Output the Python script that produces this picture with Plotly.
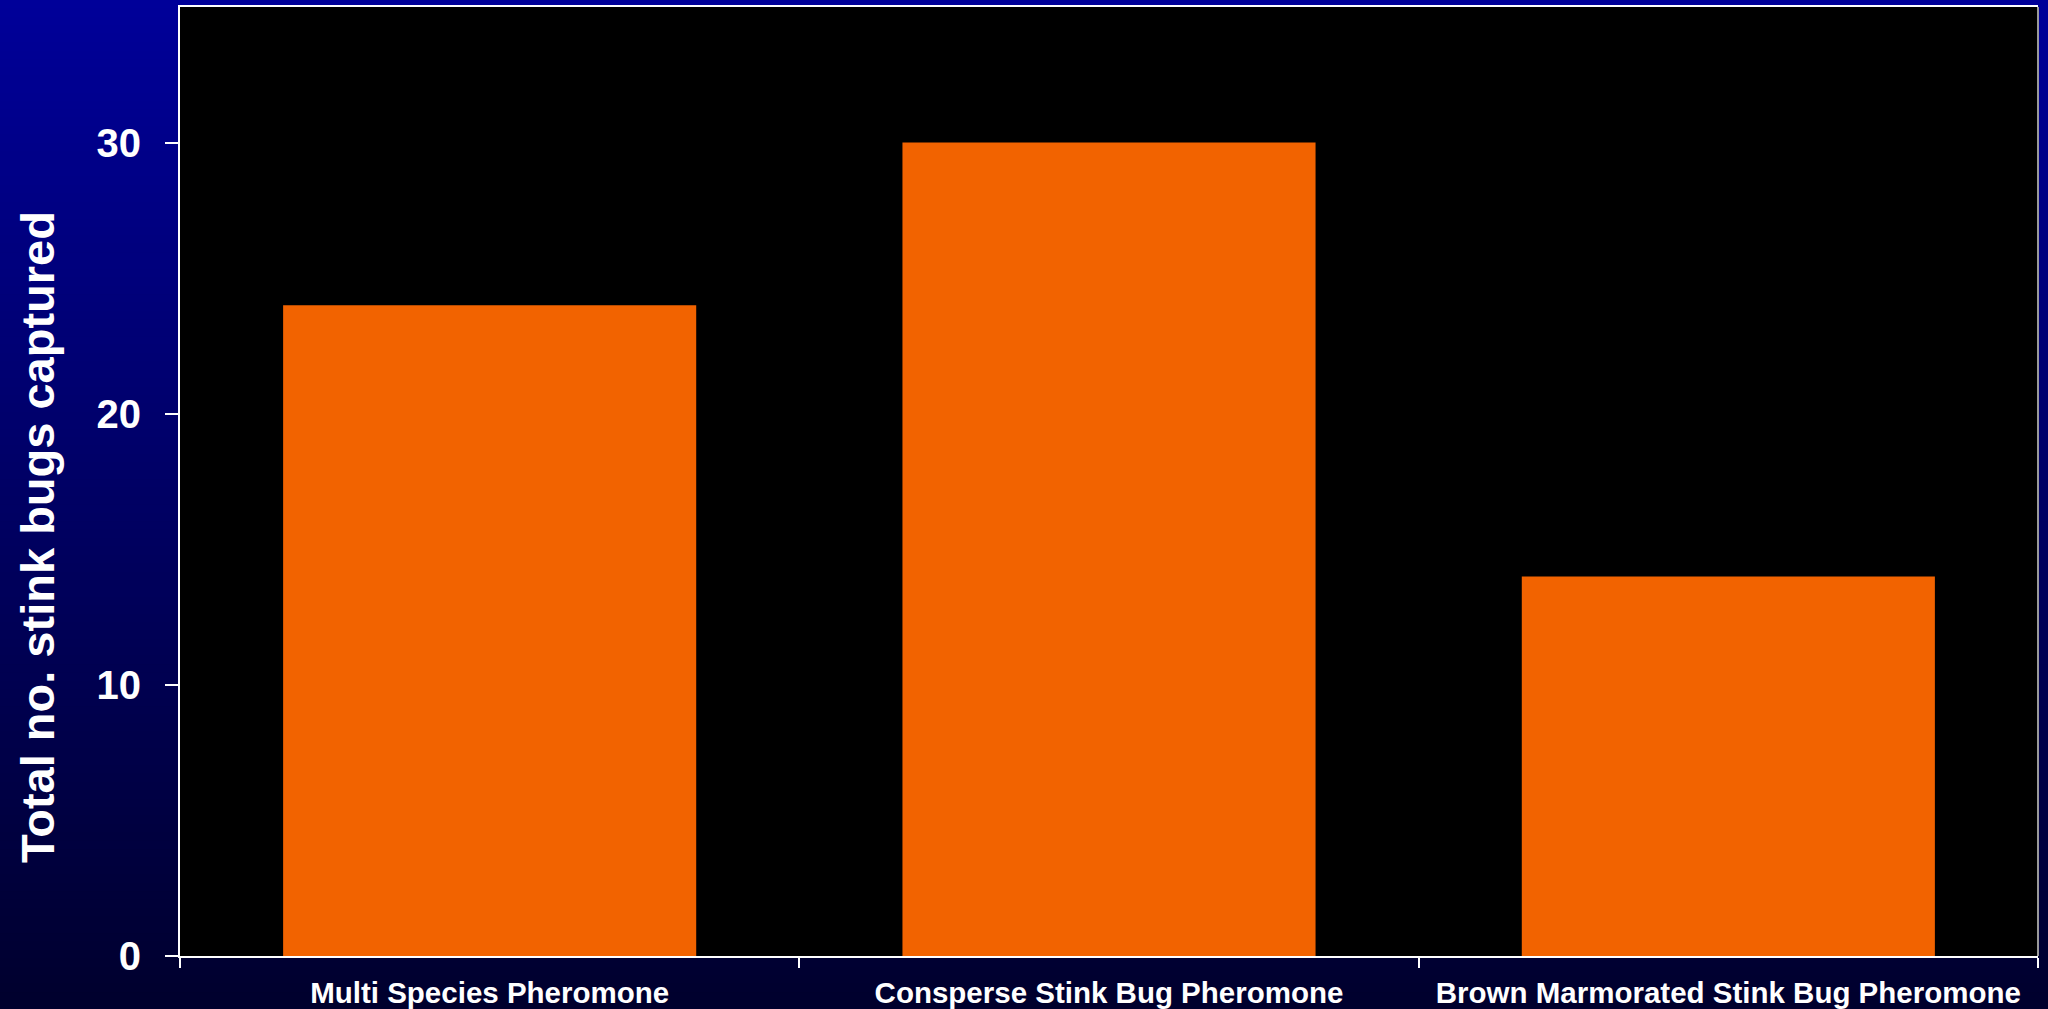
import plotly.graph_objects as go

categories = ["Multi Species Pheromone", "Consperse Stink Bug Pheromone", "Brown Marmorated Stink Bug Pheromone"]
totals = [24, 30, 14]
y_ticks = [0, 10, 20, 30]
y_title = "Total no. stink bugs captured"

W, H = 2048, 1009
ML, MR, MT, MB = 180, 10, 7, 53
pw = W - ML - MR
ph = H - MT - MB

font_family = "Liberation Sans, Arial, sans-serif"

fig = go.Figure()
fig.add_trace(go.Bar(
    x=categories, y=totals,
    marker=dict(color="#F26300", line=dict(width=0)),
    hoverinfo="x+y",
))

# gradient background bands (paper)
shapes = []
n = 120
top_c = (0, 0, 153)
bot_c = (0, 0, 45)
for i in range(n):
    px0 = H * i / n
    px1 = H * (i + 1) / n + 1
    t = (i + 0.5) / n
    c = tuple(int(round(top_c[k] + (bot_c[k] - top_c[k]) * t)) for k in range(3))
    shapes.append(dict(
        type="rect", xref="paper", yref="paper", layer="below",
        x0=-ML / pw - 0.01, x1=1 + MR / pw + 0.01,
        y0=(H - MB - px1) / ph, y1=(H - MB - px0) / ph,
        fillcolor="rgb(%d,%d,%d)" % c, line=dict(width=0),
    ))
# black plot area
shapes.append(dict(type="rect", xref="paper", yref="paper", layer="below",
                   x0=0, x1=1, y0=0, y1=1, fillcolor="black", line=dict(width=0)))
# right border (grey)
shapes.append(dict(type="line", xref="paper", yref="paper", layer="above",
                   x0=1, x1=1, y0=0, y1=1, line=dict(color="#9a9a9a", width=2)))

fig.update_layout(
    width=W, height=H,
    margin=dict(l=ML, r=MR, t=MT, b=MB, autoexpand=False),
    paper_bgcolor="rgb(0,0,100)",
    plot_bgcolor="black",
    shapes=shapes,
    bargap=0.333,
    showlegend=False,
    font=dict(family=font_family, color="white"),
    annotations=[dict(
        text="<b>%s</b>" % y_title, textangle=-90,
        xref="paper", yref="paper", x=(37 - ML) / pw, y=(H - MB - 537) / ph,
        xanchor="center", yanchor="middle", showarrow=False,
        font=dict(family=font_family, size=47, color="white"),
    )],
)

fig.update_xaxes(
    type="category", automargin=False,
    showline=True, linecolor="white", linewidth=2, mirror=True,
    ticks="outside", tickson="boundaries", ticklen=10, tickwidth=2, tickcolor="white",
    ticklabelstandoff=10,
    tickfont=dict(family=font_family, size=29.5, color="white", weight="bold"),
    showgrid=False, zeroline=False,
)
fig.update_yaxes(
    range=[0, 35], automargin=False,
    tickvals=y_ticks, ticktext=[str(v) for v in y_ticks],
    showline=True, linecolor="white", linewidth=2,
    ticks="outside", ticklen=13, tickwidth=2, tickcolor="white",
    ticklabelstandoff=16,
    tickfont=dict(family=font_family, size=40, color="white", weight="bold"),
    showgrid=False, zeroline=False,
)

fig.write_html(
    "out.html",
    config={"displayModeBar": False},
    post_script="document.body.style.margin='0';document.body.style.overflow='hidden';",
)
